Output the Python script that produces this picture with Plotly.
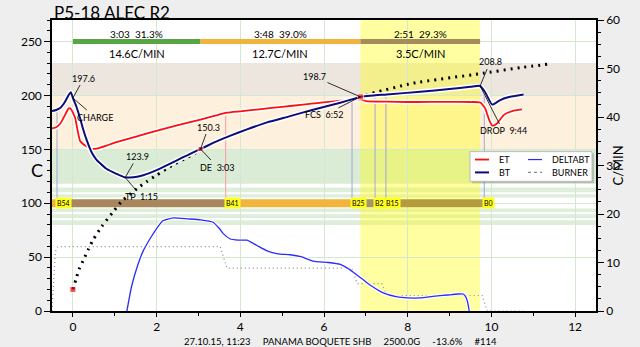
import numpy as np
import plotly.graph_objects as go

# ---------------- roast curves ----------------
bt_time = [-0.5, -0.4, -0.3, -0.2, -0.1, -0.05, 0.0, 0.08, 0.17, 0.25, 0.33, 0.45, 0.55, 0.65,
           0.8, 1.04, 1.25, 1.45, 1.68, 2.0, 2.3, 2.6, 2.85, 3.05, 3.35, 3.6, 3.75, 4.16, 4.64,
           5.19, 5.74, 6.39, 6.7, 6.87, 7.5, 8.3, 9.0, 9.5, 9.73, 9.85, 10.02, 10.2, 10.4, 10.77]
bt_temp = [185.6, 186.5, 188.5, 193.5, 200.5, 203.0, 197.6, 190.0, 179.0, 168.0, 158.5, 147.0,
           141.0, 137.0, 132.0, 127.3, 123.9, 124.2, 126.0, 130.7, 136.2, 142.0, 146.8, 150.3,
           155.9, 160.2, 162.5, 168.5, 175.0, 180.8, 186.8, 193.3, 196.7, 198.7, 200.9, 203.4,
           206.0, 208.0, 208.8, 203.0, 191.5, 195.5, 198.3, 200.8]

et_time = [-0.5, -0.4, -0.3, -0.2, -0.1, -0.05, 0.05, 0.17, 0.33, 0.45, 0.6, 0.8, 1.04, 1.84,
           2.51, 3.05, 3.4, 3.68, 4.0, 4.5, 5.0, 5.5, 5.9, 6.4, 6.87, 7.0, 7.5, 8.0, 8.5, 9.0,
           9.5, 9.73, 9.85, 9.95, 10.02, 10.12, 10.3, 10.5, 10.73]
et_temp = [169.4, 170.5, 174.0, 181.0, 188.0, 187.5, 179.5, 158.0, 152.6, 150.5, 151.0, 153.5,
           156.6, 165.5, 172.5, 177.5, 181.2, 184.0, 185.3, 187.4, 189.4, 191.5, 193.2, 195.2,
           196.3, 194.8, 194.3, 193.9, 194.0, 194.0, 193.9, 193.5, 188.0, 177.0, 172.0, 173.5,
           182.0, 185.5, 187.0]

ror_time = [1.29, 1.4, 1.55, 1.68, 1.85, 2.0, 2.15, 2.4, 2.75, 3.05, 3.35, 3.5, 3.6, 3.75, 3.95,
            4.16, 4.4, 4.64, 4.9, 5.19, 5.45, 5.74, 6.1, 6.39, 6.55, 6.7, 6.9, 7.11, 7.4, 7.75,
            8.0, 8.3, 8.6, 8.95, 9.2, 9.33, 9.38, 9.43, 9.47]
ror_val = [0.0, 5.0, 9.5, 12.4, 15.0, 17.0, 18.6, 19.2, 19.0, 18.8, 18.3, 17.0, 15.9, 14.9, 14.6,
           14.6, 13.5, 12.4, 11.8, 11.6, 11.2, 10.3, 10.0, 9.6, 8.9, 8.0, 6.7, 5.3, 3.8, 2.9,
           2.7, 2.7, 3.0, 3.3, 3.5, 3.5, 3.0, 1.9, 0.0]

# background (reference) profile, dotted
bg_time = [0.0, 0.07, 0.15, 0.26, 0.37, 0.49, 0.69, 0.98, 1.16, 1.54, 1.76, 2.0, 2.24, 2.44,
           2.72, 3.05, 3.6, 4.16, 4.64, 5.19, 5.74, 6.39, 6.87, 7.03, 8.14, 9.7, 10.73, 11.36]
bg_temp = [20.0, 29.0, 39.0, 48.0, 57.4, 66.6, 78.5, 93.0, 101.6, 113.8, 120.0, 126.0, 132.0,
           136.7, 142.2, 149.5, 160.5, 168.8, 175.3, 181.2, 187.2, 193.6, 198.7, 200.8, 211.5,
           220.0, 226.0, 229.0]

# burner steps, plotted on the temperature axis
burner_time = [-0.5, -0.42, -0.36, 3.52, 3.6, 3.68, 6.67, 6.79, 7.38, 7.5, 9.78, 9.9, 10.8]
burner_level = [0.0, 55.0, 59.8, 59.8, 49.7, 39.7, 39.7, 25.4, 25.4, 14.4, 14.4, 0.0, 0.0]

# ---------------- phases ----------------
phase_edges = [0.0, 3.05, 6.87, 9.73]
phase_colors = ["#58a545", "#f0b43c", "#a68c5c"]
phase_top_text = ["3:03  31.3%", "3:48  39.0%", "2:51  29.3%"]
phase_bottom_text = ["14.6C/MIN", "12.7C/MIN", "3.5C/MIN"]

# ---------------- events ----------------
event_time = [-0.38, 3.65, 6.67, 7.22, 7.48, 9.83]
event_label = ["B54", "B41", "B25", "B2", "B15", "B0"]
event_on_et = [False, True, False, False, False, False]
event_bar_start_color = "#f0b43c"
event_bar_colors = ["#a8875c", "#f2b53c", "#a8946a", "#a8946a", "#b49b3c", None]

# ---------------- key points ----------------
charge_pt = (0.0, 197.6)
tp_pt = (1.25, 123.9)
de_pt = (3.05, 150.3)
fcs_pt = (6.87, 198.7)
drop_pt = (9.73, 208.8)

# horizontal background bands (temperature ranges)
band_ranges = [(200, 230), (150, 200), (118, 150)]
band_colors = ["#ede6df", "#fdf0dc", "#dbecd6"]
stripe_ranges = [(110.2, 114.5), (105.3, 108.3), (91.8, 95.2), (86.4, 89.7), (79.7, 84.2)]
stripe_color = "#deeedb"

X_RANGE = [-0.5, 12.5]
Y_RANGE = [0, 270]
Y2_RANGE = [0, 60]
FONT = "Lato, DejaVu Sans, sans-serif"

fig = go.Figure()


def add_line(x, y, color, width, dash=None, yaxis="y", smooth=False, opacity=1.0):
    line = dict(color=color, width=width)
    if dash:
        line["dash"] = dash
    if smooth:
        line["shape"] = "spline"
        line["smoothing"] = 0.5
    fig.add_trace(go.Scatter(x=x, y=y, mode="lines", line=line, yaxis=yaxis,
                             opacity=opacity, showlegend=False, hoverinfo="skip"))


# event bar at 100 C
bar_y = 100
add_line([X_RANGE[0], event_time[0]], [bar_y, bar_y], event_bar_start_color, 8)
for i, c in enumerate(event_bar_colors):
    if c is None:
        continue
    add_line([event_time[i], event_time[i + 1]], [bar_y, bar_y], c, 8)

# phase bar at 250 C
for i, c in enumerate(phase_colors):
    add_line([phase_edges[i], phase_edges[i + 1]], [250, 250], c, 5)

# event marker lines up to the curves
for t, on_et in zip(event_time, event_on_et):
    if on_et:
        top = float(np.interp(t, et_time, et_temp))
        col = "#ff9aa4"
    else:
        top = float(np.interp(t, bt_time, bt_temp))
        col = "#a4a4dc"
    add_line([t, t], [bar_y + 3, top], col, 1)

# burner
add_line(burner_time, burner_level, "#888888", 1.2, dash="1px,3px")

# delta BT
add_line(ror_time, ror_val, "white", 3.5, yaxis="y2", smooth=True)
add_line(ror_time, ror_val, "#2b2bff", 1.3, yaxis="y2", smooth=True)

# background profile
add_line(bg_time, bg_temp, "black", 3, dash="2px,5px", smooth=True)

# ET / BT
add_line(et_time, et_temp, "white", 5, smooth=True)
add_line(et_time, et_temp, "#ff1010", 1.8, smooth=True)
add_line(bt_time, bt_temp, "white", 5, smooth=True)
add_line(bt_time, bt_temp, "#0c0c7a", 2.0, smooth=True)

# red markers
fig.add_trace(go.Scatter(x=[0.0, de_pt[0], fcs_pt[0]], y=[bg_temp[0], de_pt[1], fcs_pt[1]],
                         mode="markers", marker=dict(symbol="square", color="#ee1111", size=[6, 5, 6]),
                         showlegend=False, hoverinfo="skip"))

shapes = []
for (y0, y1), c in zip(band_ranges, band_colors):
    shapes.append(dict(type="rect", xref="paper", yref="y", x0=0, x1=1, y0=y0, y1=y1,
                       fillcolor=c, line=dict(width=0), layer="below"))
for (y0, y1) in stripe_ranges:
    shapes.append(dict(type="rect", xref="paper", yref="y", x0=0, x1=1, y0=y0, y1=y1,
                       fillcolor=stripe_color, line=dict(width=0), layer="below"))
# finishing phase highlight (first crack to drop)
shapes.append(dict(type="rect", xref="x", yref="paper", x0=fcs_pt[0], x1=drop_pt[0], y0=0, y1=1,
                   fillcolor="rgba(255,255,0,0.37)", line=dict(width=0), layer="below"))

annotations = []


def note(pt, text, ax, ay):
    annotations.append(dict(x=pt[0], y=pt[1], xref="x", yref="y", text=text, showarrow=True,
                            arrowhead=0, arrowwidth=0.8, arrowcolor="black", ax=ax, ay=ay,
                            standoff=0, font=dict(family=FONT, size=9, color="black")))


note(charge_pt, "197.6", 11, -20)
note(charge_pt, "CHARGE", 22, 19)
note(tp_pt, "123.9", 12, -21)
note(tp_pt, "TP  1:15", 16, 19)
note(de_pt, "150.3", 8, -22)
note(de_pt, "DE  3:03", 17, 18)
note(fcs_pt, "198.7", -46, -20)
note(fcs_pt, "FCS  6:52", -36, 18)
note(drop_pt, "208.8", 10, -24)
note(drop_pt, "DROP  9:44", 23, 45)

for i in range(3):
    mid = (phase_edges[i] + phase_edges[i + 1]) / 2
    annotations.append(dict(x=mid, y=257, xref="x", yref="y", text=phase_top_text[i],
                            showarrow=False, font=dict(family=FONT, size=10, color="black")))
    annotations.append(dict(x=mid, y=239, xref="x", yref="y", text=phase_bottom_text[i],
                            showarrow=False, font=dict(family=FONT, size=11, color="black")))

for t, lab in zip(event_time, event_label):
    annotations.append(dict(x=t, y=bar_y, xref="x", yref="y", text=lab, showarrow=False,
                            xanchor="left", bgcolor="#ffff22", borderpad=1, xshift=-2,
                            font=dict(family=FONT, size=7, color="black")))

annotations.append(dict(x=0, y=1, xref="paper", yref="paper", text="P5-18 ALEC R2",
                        showarrow=False, xanchor="left", yanchor="middle", yshift=8,
                        font=dict(family=FONT, size=17, color="black")))
annotations.append(dict(x=-0.042, y=0.485, xref="paper", yref="paper", text="C",
                        showarrow=False, font=dict(family=FONT, size=18, color="black")))
annotations.append(dict(x=1.057, y=0.5, xref="paper", yref="paper", text="C/MIN",
                        showarrow=False, textangle=-90, font=dict(family=FONT, size=13, color="black")))
annotations.append(dict(x=0.53, y=0, xref="paper", yref="paper", yshift=-30,
                        text="27.10.15, 11:23     PANAMA BOQUETE SHB     2500.0G     -13.6%     #114",
                        showarrow=False, yanchor="middle",
                        font=dict(family=FONT, size=9.5, color="black")))

# legend box
PW, PH, PL, PB = 544, 294, 52, 311


def px(xp):
    return (xp - PL) / PW


def py(yp):
    return (PB - yp) / PH


shapes.append(dict(type="rect", xref="paper", yref="paper", x0=px(472), x1=px(594),
                   y0=py(182), y1=py(152), fillcolor="rgba(0,0,0,0.18)", line=dict(width=0),
                   layer="above"))
shapes.append(dict(type="rect", xref="paper", yref="paper", x0=px(470), x1=px(592),
                   y0=py(180), y1=py(150), fillcolor="white", line=dict(color="#bbbbbb", width=1),
                   layer="above"))
legend_items = [("ET", "#ff1010", 1.8, None, 475, 158),
                ("BT", "#0c0c7a", 2.0, None, 475, 171),
                ("DELTABT", "#2b2bff", 1.2, None, 528, 158),
                ("BURNER", "#888888", 1.2, "dot", 528, 171)]
for name, col, w, dash, lx, ly in legend_items:
    ln = dict(color=col, width=w)
    if dash:
        ln["dash"] = dash
    shapes.append(dict(type="line", xref="paper", yref="paper", x0=px(lx), x1=px(lx + 14),
                       y0=py(ly), y1=py(ly), line=ln, layer="above"))
    annotations.append(dict(x=px(lx + 22), y=py(ly), xref="paper", yref="paper", text=name,
                            showarrow=False, xanchor="left",
                            font=dict(family=FONT, size=9, color="black")))

axis_common = dict(ticks="outside", tickwidth=1.2, tickcolor="black",
                   showline=True, linecolor="black", linewidth=1.5,
                   tickfont=dict(family=FONT, size=12, color="black"), zeroline=False)

fig.update_layout(
    width=640, height=347,
    margin=dict(l=52, r=44, t=17, b=36),
    paper_bgcolor="#eeeeee", plot_bgcolor="white",
    showlegend=False,
    xaxis=dict(range=X_RANGE, tickvals=list(range(0, 13, 2)), mirror=True, ticklen=4,
               showgrid=True, gridcolor="#d3e8cf", gridwidth=1,
               minor=dict(dtick=1, tick0=0, ticks="outside", ticklen=3, tickcolor="black",
                          showgrid=False),
               **axis_common),
    yaxis=dict(range=Y_RANGE, tickvals=list(range(0, 251, 50)), ticklen=6,
               showgrid=True, gridcolor="#d3e8cf", gridwidth=1,
               minor=dict(dtick=10, tick0=0, ticks="outside", ticklen=3, tickcolor="black",
                          showgrid=False),
               **axis_common),
    yaxis2=dict(range=Y2_RANGE, overlaying="y", side="right", tickvals=list(range(0, 61, 10)),
                ticklen=6, showgrid=False,
                minor=dict(dtick=2.5, tick0=0, ticks="outside", ticklen=3, tickcolor="black"),
                **axis_common),
    shapes=shapes,
    annotations=annotations,
)

fig.write_html("out.html")
